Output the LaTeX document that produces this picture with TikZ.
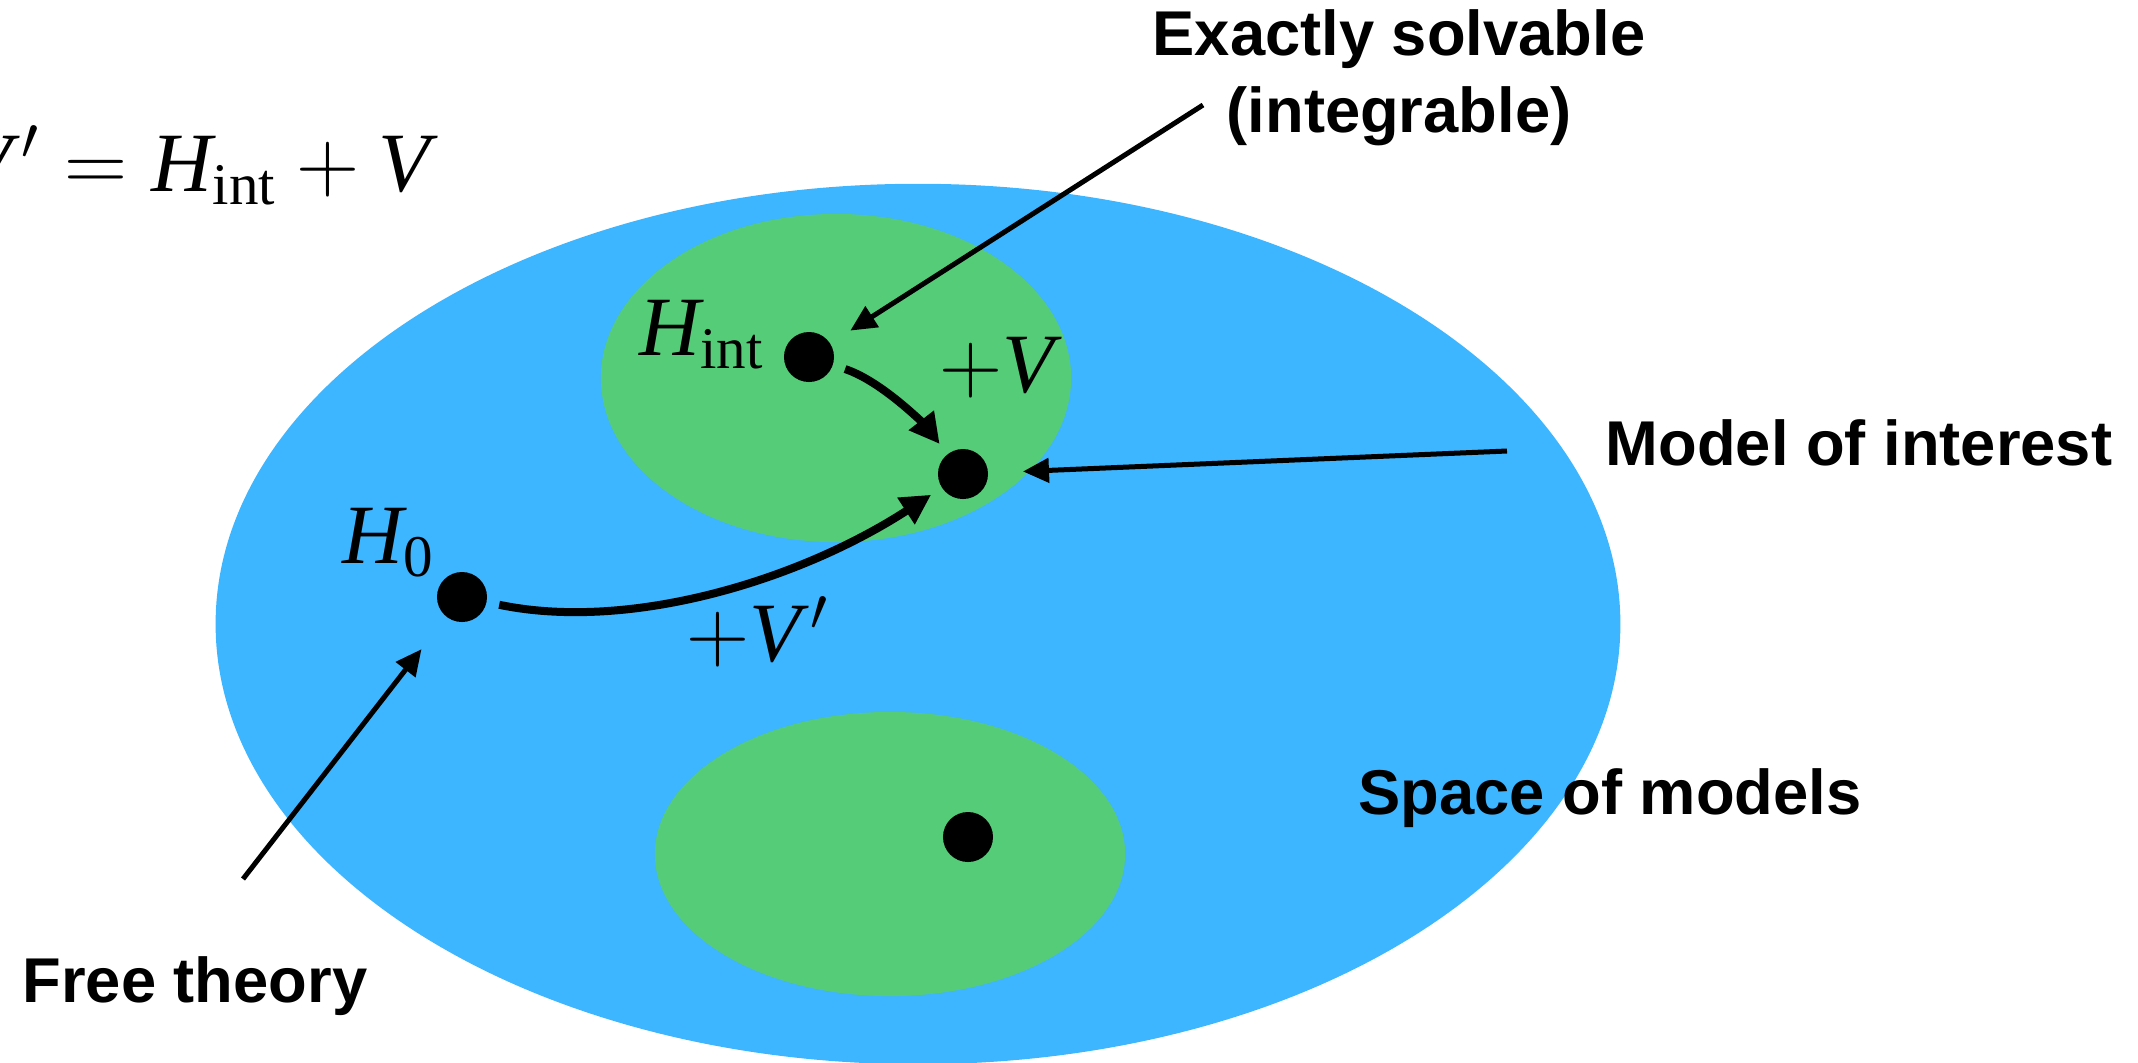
\documentclass[tikz,border=0pt]{standalone}
\usepackage{fontspec}
\setmainfont{Liberation Serif}
\setsansfont{Liberation Sans}
\usetikzlibrary{arrows.meta,positioning}
\definecolor{spacecol}{RGB}{61,181,255}
\definecolor{solvcol}{RGB}{85,205,120}
\newcommand{\Vp}{\mathit{V}\mkern2mu{}'}

\begin{document}
\begin{tikzpicture}[x=0.01cm,y=-0.01cm,>={Triangle[length=0.26cm,width=0.24cm]},
  dot/.style={circle,fill=black,minimum size=0.5cm,inner sep=0pt,outer sep=0.13cm},
  lab/.style={font=\sffamily\bfseries\fontsize{18}{22}\selectfont,align=center},
  mth/.style={font=\fontsize{24}{28}\selectfont,inner sep=0pt},
  pointer/.style={->,line width=0.05cm},
  flow/.style={->,line width=0.08cm,>={Triangle[length=0.3cm,width=0.3cm]}}]
\useasboundingbox (0,0) rectangle (2138,1062);
\fill[spacecol] (918,624) ellipse [x radius=7.02cm,y radius=4.4cm];
\fill[solvcol] (836,378) ellipse [x radius=2.35cm,y radius=1.64cm];
\fill[solvcol] (890,854) ellipse [x radius=2.35cm,y radius=1.42cm];
% models
\node[dot] (hint) at (809,357) {};\node[dot] (model) at (963,474) {};
\node[dot] (h0) at (462,597) {};\node[dot] (other) at (968,837) {};
\node[mth] (hintlab) at (702,335) {$\mathit{H}_{\mathrm{int}}$};
\node[mth] (vlab) at (997,368) {$+\mathit{V}$};
\node[mth] (h0lab) at (389,543) {$\mathit{H}_{\mathrm{0}}$};
\node[mth] (vplab) at (758,632) {$+\Vp$};
\node[mth,anchor=base east] (eq) at (431,191) {$\Vp = \mathit{H}_{\mathrm{int}} + \mathit{V}$};
% labels
\node[lab] (solv) at (1399,78) {Exactly solvable\\(integrable)};
\node[lab] (interest) at (1859,443) {Model of interest};
\node[lab] (space) at (1610,798) {Space of models};
\node[lab] (free) at (195,986) {Free theory};
\coordinate (solvend) at (1203,105);\coordinate (interestend) at (1507,451);
\coordinate (freeend) at (243,879);
\draw[pointer,shorten >=0.11cm] (solvend)--(hint);
\draw[pointer,shorten >=0.22cm] (interestend)--(model);
\draw[pointer,shorten >=0.28cm] (freeend)--(h0);
\draw[flow] (hint) .. controls +(75,25) and +(-35,-45) .. (model);
\draw[flow] (h0) .. controls +(168,35) and +(-163,106) .. (model);
\end{tikzpicture}
\end{document}
